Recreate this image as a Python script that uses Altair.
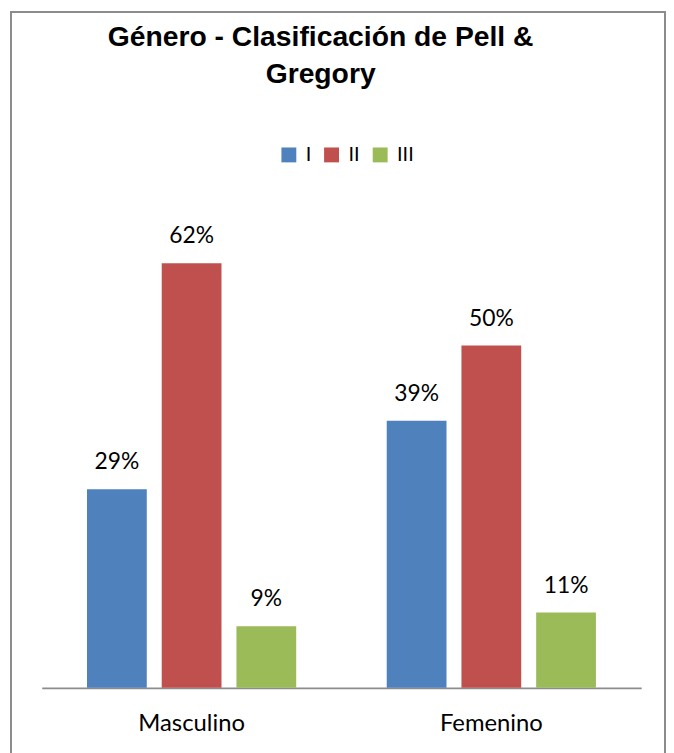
import altair as alt
import pandas as pd

generos = ["Masculino", "Femenino"]
clases = ["I", "II", "III"]
masculino = [29, 62, 9]
femenino = [39, 50, 11]
colores = ["#4F81BD", "#C0504D", "#9BBB59"]

rows = []
for g, vals in zip(generos, [masculino, femenino]):
    for c, v in zip(clases, vals):
        rows.append({"Genero": g, "Clase": c, "Valor": v})
df = pd.DataFrame(rows)

base = alt.Chart(df).transform_calculate(
    etiqueta="datum.Valor + '%'"
).encode(
    x=alt.X("Genero:N", sort=generos,
            scale=alt.Scale(paddingInner=0.302, paddingOuter=0.151),
            axis=alt.Axis(title=None, labelAngle=0, ticks=False, domainColor="#8c8c8c",
                          domainWidth=2, labelFontSize=24, labelFont="Lato",
                          labelColor="black", labelPadding=24)),
    xOffset=alt.XOffset("Clase:N", sort=clases,
                        scale=alt.Scale(paddingInner=0.2, paddingOuter=0)),
    y=alt.Y("Valor:Q", scale=alt.Scale(domain=[0, 70]), axis=None),
)

bars = base.mark_bar().encode(
    color=alt.Color("Clase:N", sort=clases,
                    scale=alt.Scale(domain=clases, range=colores),
                    legend=alt.Legend(orient="none", direction="horizontal",
                                      legendX=239, legendY=-64, title=None,
                                      symbolType="square", symbolSize=225,
                                      symbolStrokeWidth=0, labelFontSize=20,
                                      labelFont="Lato", labelColor="black",
                                      labelOffset=7, columnPadding=10))
)

labels = base.mark_text(baseline="bottom", dy=-15, fontSize=23, font="Lato",
                        color="black").encode(text="etiqueta:N")

frame = alt.Chart(df).mark_rect(fill=None, stroke="#8c8c8c", strokeWidth=1.5).encode(
    x=alt.value(-31), x2=alt.value(628), y=alt.value(-198), y2=alt.value(600)
)

chart = alt.layer(frame, bars, labels).properties(
    width=604, height=483,
    title=alt.Title(["Género - Clasificación de Pell &", "Gregory"],
                    font="Liberation Sans Narrow, Arial Narrow, Liberation Sans",
                    fontSize=28.5, fontWeight="bold", color="black",
                    anchor="middle", dx=-21, lineHeight=37, offset=-78),
    padding={"left": 2, "top": 0, "right": 0, "bottom": 0},
).configure_view(stroke=None)

chart.save("out.html", embed_options={"renderer": "svg", "actions": False})
